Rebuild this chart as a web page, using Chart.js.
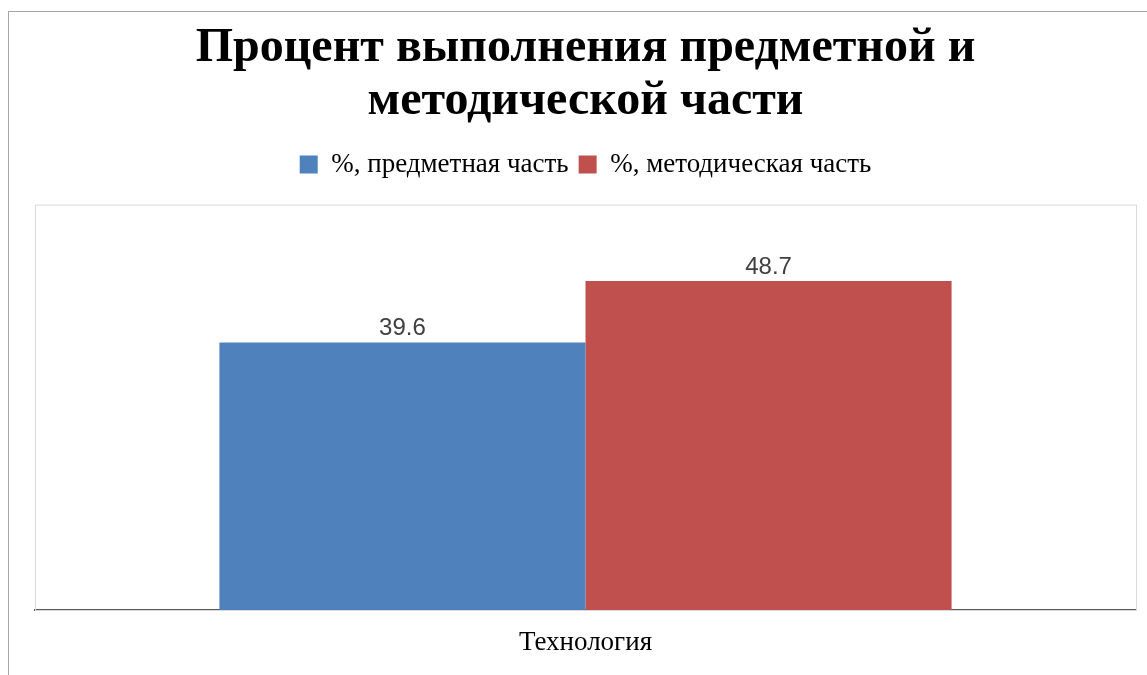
<!DOCTYPE html>
<html>
<head>
<meta charset="utf-8">
<script src="https://cdn.jsdelivr.net/npm/chart.js@4.4.1/dist/chart.umd.min.js"></script>
<style>
  html, body { margin: 0; padding: 0; background: #fff; }
  #wrap { position: relative; width: 1147px; height: 675px; }
  #frame {
    position: absolute; left: 8px; top: 11px; right: -10px; bottom: -10px;
    border-left: 1px solid #a6a6a6; border-top: 1px solid #a6a6a6;
  }
  canvas { position: absolute; left: 0; top: 0; }
</style>
</head>
<body>
<div id="wrap">
  <div id="frame"></div>
  <canvas id="chart" width="1147" height="675"></canvas>
</div>
<script>
const categories = ["Технология"];
const subjectPart = [39.6];
const methodPart = [48.7];
const seriesNames = ["%, предметная часть", "%, методическая часть"];
const titleLines = ["Процент выполнения предметной и", "методической части"];

const serif = "'Liberation Serif', 'Times New Roman', serif";

// extra space under the legend, before the plot box
const legendGap = {
  id: "legendGap",
  afterInit(chart) {
    const legend = chart.legend;
    if (!legend) return;
    const fit = legend.fit;
    legend.fit = function () {
      fit.call(this);
      this.height += 16.5;
    };
  },
};

// plot box + value labels
const plotExtras = {
  id: "plotExtras",
  beforeDatasetsDraw(chart) {
    const { ctx, chartArea } = chart;
    ctx.save();
    ctx.strokeStyle = "#d9d9d9";
    ctx.lineWidth = 1;
    ctx.strokeRect(chartArea.left + 0.5, chartArea.top + 0.5, chartArea.right - chartArea.left, chartArea.bottom - chartArea.top);
    ctx.restore();
  },
  afterDatasetsDraw(chart) {
    const { ctx } = chart;
    ctx.save();
    ctx.font = "24px 'Liberation Sans', Arial, sans-serif";
    ctx.fillStyle = "#404040";
    ctx.textAlign = "center";
    ctx.textBaseline = "alphabetic";
    chart.data.datasets.forEach((ds, i) => {
      chart.getDatasetMeta(i).data.forEach((bar, j) => {
        ctx.fillText(ds.data[j].toFixed(1), bar.x, bar.y - 7);
      });
    });
    ctx.restore();
  },
};

new Chart(document.getElementById("chart").getContext("2d"), {
  type: "bar",
  data: {
    labels: categories,
    datasets: [
      {
        label: seriesNames[0],
        data: subjectPart,
        backgroundColor: "#4f81bd",
        categoryPercentage: 0.665,
        barPercentage: 1,
      },
      {
        label: seriesNames[1],
        data: methodPart,
        backgroundColor: "#c0504d",
        categoryPercentage: 0.665,
        barPercentage: 1,
      },
    ],
  },
  options: {
    responsive: false,
    animation: false,
    layout: { padding: { left: 35, right: 11, top: 0, bottom: 0 } },
    plugins: {
      title: {
        display: true,
        text: titleLines,
        color: "#000",
        font: { family: serif, size: 48, weight: "bold", lineHeight: 1.1 },
        padding: { top: 22, bottom: 13.5 },
      },
      legend: {
        position: "top",
        labels: {
          color: "#000",
          font: { family: serif, size: 27 },
          boxWidth: 18,
          boxHeight: 18,
          padding: 10,
        },
      },
      tooltip: { enabled: false },
    },
    scales: {
      y: { display: false, min: 0, max: 60 },
      x: {
        grid: { display: false, drawTicks: false },
        border: { display: true, color: "#595959", width: 2 },
        ticks: {
          color: "#000",
          padding: 19,
          font: { family: serif, size: 27, lineHeight: 1 },
        },
      },
    },
  },
  plugins: [legendGap, plotExtras],
});
</script>
</body>
</html>
